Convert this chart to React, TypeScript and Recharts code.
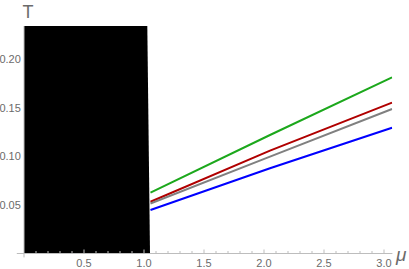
import React from 'react';
import { ComposedChart, Area, Line, XAxis, YAxis, ReferenceLine } from 'recharts';

// Black region (μ, T) boundary
const regionMu = [0, 1.0275, 1.05];
const regionT = [0.2338, 0.2338, 0];

// Curves
const lineMu = [1.054, 2.05, 3.067];
const greenT = [0.0625, 0.1218, 0.1811];
const redT = [0.0532, 0.1057, 0.155];
const grayT = [0.0514, 0.0995, 0.1485];
const blueT = [0.0447, 0.0876, 0.1293];

// Ticks
const xMajorTicks = [0.5, 1.0, 1.5, 2.0, 2.5, 3.0];
const xMinorTicks = [0.1, 0.2, 0.3, 0.4, 0.6, 0.7, 0.8, 0.9, 1.1, 1.2, 1.3, 1.4, 1.6, 1.7, 1.8, 1.9, 2.1, 2.2, 2.3, 2.4, 2.6, 2.7, 2.8, 2.9];
const yMajorTicks = [0.05, 0.1, 0.15, 0.2];

const W = 409;
const H = 269;
const X_DOMAIN: [number, number] = [-0.06, 3.07];
const Y_DOMAIN: [number, number] = [-0.004, 0.2338];
const X_AXIS_H = 11.6;
const Y_AXIS_W = 16.8;
const MARGIN = { top: 26, right: 16.6, left: 0, bottom: 0 };
const PLOT_H = H - MARGIN.top - X_AXIS_H;
const Y_OFF = (-Y_DOMAIN[0] / (Y_DOMAIN[1] - Y_DOMAIN[0])) * PLOT_H;

const regionData = regionMu.map((m, i) => ({ mu: m, T: regionT[i] }));
const mk = (arr: number[]) => lineMu.map((m, i) => ({ mu: m, T: arr[i] }));

const AXIS_COLOR = '#bdbdbd';
const LABEL_COLOR = '#6b6b6b';
const FONT = '"Liberation Sans", Arial, sans-serif';

const XTick = (props: any) => {
  const { x, y, payload } = props;
  const v = payload.value as number;
  const major = xMajorTicks.some((m) => Math.abs(m - v) < 1e-6);
  const axisY = y - Y_OFF;
  return (
    <g>
      <line x1={x} x2={x} y1={axisY} y2={axisY - (major ? 4 : 2.5)} stroke={AXIS_COLOR} strokeWidth={1} />
      {major && (
        <text x={x} y={axisY + 9} textAnchor="middle" dominantBaseline="central" style={{ fontSize: '11px', fontFamily: FONT }} fill={LABEL_COLOR}>
          {v.toFixed(1)}
        </text>
      )}
    </g>
  );
};

const YTick = (props: any) => {
  const { x, y, payload } = props;
  const v = payload.value as number;
  return (
    <text x={x + 4} y={y} textAnchor="end" dominantBaseline="central" style={{ fontSize: '11px', fontFamily: FONT }} fill={LABEL_COLOR}>
      {v.toFixed(2)}
    </text>
  );
};

const allXTicks = [...xMinorTicks, ...xMajorTicks].sort((a, b) => a - b);

export default function App() {
  return (
    <div style={{ position: 'absolute', left: 0, top: 0, width: W, height: H, background: '#fff' }}>
      <ComposedChart width={W} height={H} margin={MARGIN}>
        <XAxis
          dataKey="mu"
          type="number"
          domain={X_DOMAIN}
          allowDataOverflow
          ticks={allXTicks}
          interval={0}
          height={X_AXIS_H}
          axisLine={false}
          tickLine={false}
          tickSize={0}
          tickMargin={0}
          tick={(p: any) => <XTick {...p} />}
        />
        <YAxis
          type="number"
          domain={Y_DOMAIN}
          allowDataOverflow
          ticks={yMajorTicks}
          interval={0}
          width={Y_AXIS_W}
          axisLine={false}
          tickLine={false}
          tickSize={0}
          tickMargin={0}
          tick={(p: any) => <YTick {...p} />}
        />
        <ReferenceLine y={0} stroke={AXIS_COLOR} strokeWidth={1} />
        <ReferenceLine x={0} stroke={AXIS_COLOR} strokeWidth={1} />
        <Area
          data={regionData}
          dataKey="T"
          type="linear"
          baseValue={0}
          fill="#000"
          fillOpacity={1}
          stroke="none"
          isAnimationActive={false}
          dot={false}
          activeDot={false}
        />
        <Line data={mk(greenT)} dataKey="T" type="linear" stroke="#1ca81c" strokeWidth={2} dot={false} activeDot={false} isAnimationActive={false} />
        <Line data={mk(redT)} dataKey="T" type="linear" stroke="#b00000" strokeWidth={2} dot={false} activeDot={false} isAnimationActive={false} />
        <Line data={mk(grayT)} dataKey="T" type="linear" stroke="#808080" strokeWidth={2} dot={false} activeDot={false} isAnimationActive={false} />
        <Line data={mk(blueT)} dataKey="T" type="linear" stroke="#0000ff" strokeWidth={2} dot={false} activeDot={false} isAnimationActive={false} />
      </ComposedChart>
      <svg width={W} height={H} style={{ position: 'absolute', left: 0, top: 0, pointerEvents: 'none' }}>
        <text x={28} y={18} textAnchor="middle" style={{ fontSize: '18px', fontFamily: FONT }} fill={LABEL_COLOR}>
          T
        </text>
        <text x={396} y={261} style={{ fontSize: '19px', fontStyle: 'italic', fontFamily: FONT }} fill={LABEL_COLOR}>
          μ
        </text>
      </svg>
    </div>
  );
}
